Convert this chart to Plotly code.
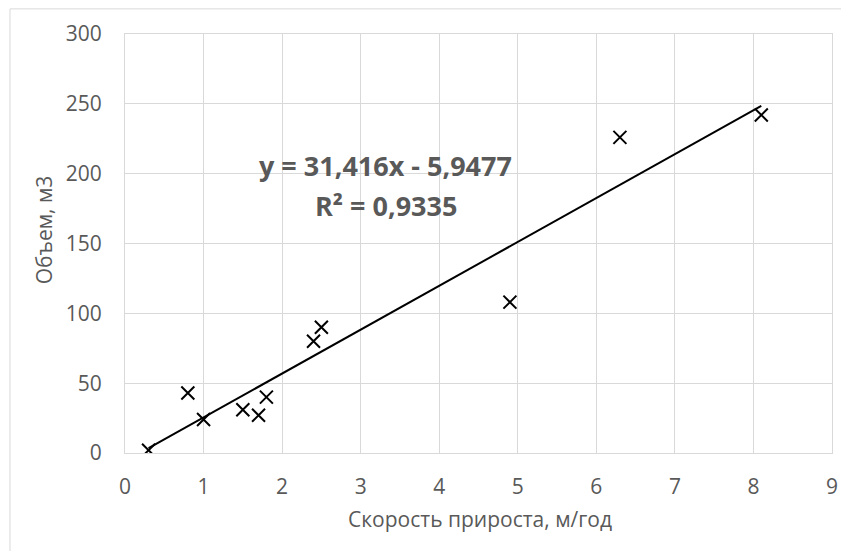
import numpy as np
import plotly.graph_objects as go

# Data
growth_rate = [0.3, 0.8, 1.0, 1.5, 1.7, 1.8, 2.4, 2.5, 4.9, 6.3, 8.1]
volume = [2, 43, 24, 31, 27, 40, 80, 90, 108, 226, 242]
slope = 31.416
intercept = -5.9477
r_squared = 0.9335
x_ticks = list(range(0, 10))
y_ticks = list(range(0, 301, 50))
x_title = "Скорость прироста, м/год"
y_title = "Объем, м3"

def fmt(v):
    return f"{v}".replace(".", ",")

trend_x = np.array([min(growth_rate), max(growth_rate)])
trend_y = slope * trend_x + intercept

TICK_FONT = dict(family="Open Sans", size=21, color="#595959")
GRID = "#d9d9d9"

fig = go.Figure()
fig.add_trace(go.Scatter(
    x=growth_rate, y=volume, mode="markers",
    marker=dict(symbol="x-thin", size=13, line=dict(color="black", width=2), color="black"),
    showlegend=False, hoverinfo="x+y",
))
fig.add_trace(go.Scatter(
    x=trend_x, y=trend_y, mode="lines",
    line=dict(color="black", width=2), showlegend=False, hoverinfo="skip",
))

# page body has an 8px margin; figure sized so the plot lands where the reference has it
fig.update_layout(
    width=841, height=543,
    margin=dict(l=117, r=11, t=24, b=98),
    paper_bgcolor="white", plot_bgcolor="white",
    xaxis=dict(range=[0, 9], tickvals=x_ticks, showgrid=True, gridcolor=GRID, gridwidth=1,
               zeroline=False, showline=True, linecolor=GRID, mirror=True,
               tickfont=TICK_FONT, ticks="", ticklabelstandoff=15, fixedrange=True),
    yaxis=dict(range=[0, 300], tickvals=y_ticks, showgrid=True, gridcolor=GRID, gridwidth=1,
               zeroline=False, showline=True, linecolor=GRID, mirror=True,
               tickfont=TICK_FONT, ticks="", ticklabelstandoff=18, fixedrange=True),
    annotations=[
        dict(text=x_title, xref="paper", yref="paper", x=0.502, y=-0.158,
             showarrow=False, font=dict(family="Open Sans", size=21, color="#595959"),
             xanchor="center", yanchor="middle"),
        dict(text=y_title, xref="paper", yref="paper", x=-0.115, y=0.533, textangle=-90,
             showarrow=False, font=dict(family="Open Sans", size=21, color="#595959"),
             xanchor="center", yanchor="middle"),
        dict(text=f"y = {fmt(slope)}x - {fmt(abs(intercept))}", xref="paper", yref="paper",
             x=0.369, y=0.685, showarrow=False,
             font=dict(family="Open Sans", size=27, color="#595959", weight="bold"),
             xanchor="center", yanchor="middle"),
        dict(text=f"R² = {fmt(r_squared)}", xref="paper", yref="paper",
             x=0.369, y=0.590, showarrow=False,
             font=dict(family="Open Sans", size=27, color="#595959", weight="bold"),
             xanchor="center", yanchor="middle"),
    ],
    shapes=[
        dict(type="line", xref="paper", yref="paper", x0=-0.1627, x1=1.05, y0=1.060, y1=1.060,
             line=dict(color=GRID, width=1)),
        dict(type="line", xref="paper", yref="paper", x0=-0.1627, x1=-0.1627, y0=1.060, y1=-0.3,
             line=dict(color=GRID, width=1)),
    ],
)

fig.write_html("out.html")
